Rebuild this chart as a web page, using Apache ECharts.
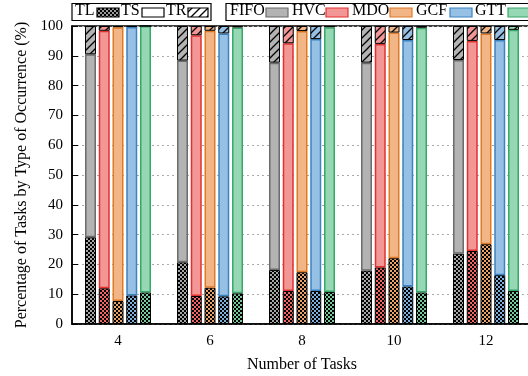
<!DOCTYPE html>
<html>
<head>
<meta charset="utf-8">
<script src="https://cdn.jsdelivr.net/npm/echarts@6/dist/echarts.min.js"></script>
<style>
  html, body { margin: 0; padding: 0; background: #fff; }
  #chart { width: 528px; height: 376px; }
</style>
</head>
<body>
<div id="chart"></div>
<script>
// Number of tasks on the x axis
const categories = ['4', '6', '8', '10', '12'];
const algorithms = ['FIFO', 'HVC', 'MDO', 'GCF', 'GTT'];
const yTicks = [0, 10, 20, 30, 40, 50, 60, 70, 80, 90, 100];

// Share of tasks (%) by type of occurrence, per algorithm, per task count
const tlFIFO = [29.1, 20.7, 18.1, 17.9, 23.6];
const tsFIFO = [61.4, 67.7, 69.6, 69.8, 65.0];
const trFIFO = [9.5, 11.6, 12.3, 12.3, 11.4];

const tlHVC = [12.0, 9.4, 11.1, 19.0, 24.5];
const tsHVC = [86.4, 87.5, 83.1, 75.0, 70.5];
const trHVC = [1.6, 3.1, 5.8, 6.0, 5.0];

const tlMDO = [7.7, 12.2, 17.4, 22.1, 26.8];
const tsMDO = [91.9, 86.2, 80.9, 75.7, 70.7];
const trMDO = [0.4, 1.6, 1.7, 2.2, 2.5];

const tlGCF = [9.6, 9.3, 11.1, 12.6, 16.4];
const tsGCF = [90.1, 88.2, 84.5, 82.7, 78.9];
const trGCF = [0.3, 2.5, 4.4, 4.7, 4.7];

const tlGTT = [10.6, 10.3, 10.7, 10.6, 11.1];
const tsGTT = [89.4, 89.2, 88.9, 88.8, 87.6];
const trGTT = [0.0, 0.5, 0.4, 0.6, 1.3];

const values = {
  FIFO: [tlFIFO, tsFIFO, trFIFO],
  HVC: [tlHVC, tsHVC, trHVC],
  MDO: [tlMDO, tsMDO, trMDO],
  GCF: [tlGCF, tsGCF, trGCF],
  GTT: [tlGTT, tsGTT, trGTT]
};

const palette = {
  FIFO: { fill: '#b3b3b3', edge: '#6b6b6b', dot: '#a6a6a6' },
  HVC:  { fill: '#f29696', edge: '#e3312f', dot: '#f06464' },
  MDO:  { fill: '#f1b586', edge: '#e07a26', dot: '#eaa266' },
  GCF:  { fill: '#96c0e4', edge: '#3b82c2', dot: '#7fb0dc' },
  GTT:  { fill: '#96d7b4', edge: '#38a76a', dot: '#76c99a' }
};

const FONT = '"Liberation Serif", "DejaVu Serif", serif';

// Checkerboard fill for the TL part of a bar
function checker(color) {
  const c = document.createElement('canvas');
  c.width = 4; c.height = 4;
  const g = c.getContext('2d');
  g.fillStyle = '#000';
  g.fillRect(0, 0, 4, 4);
  g.fillStyle = color;
  g.fillRect(0, 0, 2, 2);
  g.fillRect(2, 2, 2, 2);
  return { image: c, repeat: 'repeat' };
}

// Diagonal hatch for the TR part of a bar
function hatch(color) {
  const c = document.createElement('canvas');
  c.width = 8; c.height = 8;
  const g = c.getContext('2d');
  g.fillStyle = color;
  g.fillRect(0, 0, 8, 8);
  g.strokeStyle = '#000';
  g.lineWidth = 1.3;
  g.beginPath();
  g.moveTo(-1, 9); g.lineTo(9, -1);
  g.moveTo(-1, 1); g.lineTo(1, -1);
  g.moveTo(7, 9); g.lineTo(9, 7);
  g.stroke();
  return { image: c, repeat: 'repeat' };
}

const series = [];
algorithms.forEach(function (name) {
  const p = palette[name];
  const v = values[name];
  const common = { type: 'bar', stack: name, barWidth: 11, barGap: '25%' };
  series.push(Object.assign({
    name: name + ' TL', data: v[0],
    itemStyle: { color: checker(p.dot), borderColor: '#000', borderWidth: 1 }
  }, common));
  series.push(Object.assign({
    name: name + ' TS', data: v[1],
    itemStyle: { color: p.fill, borderColor: p.edge, borderWidth: 1.5 }
  }, common));
  series.push(Object.assign({
    name: name + ' TR', data: v[2],
    itemStyle: { color: hatch(p.fill), borderColor: '#000', borderWidth: 1 }
  }, common));
});

// Legend boxes drawn as graphics
const txt = (x, s) => ({
  type: 'text', left: x, top: 3,
  style: { text: s, font: '16px ' + FONT, fill: '#000' }
});
const swatch = (x, w, fill, stroke) => ({
  type: 'rect', shape: { x: x, y: 8, width: w, height: 9 },
  style: { fill: fill, stroke: stroke, lineWidth: 1.2 }
});

const legendGraphics = [
  { type: 'rect', shape: { x: 72, y: 3.5, width: 139, height: 17 },
    style: { fill: '#fff', stroke: '#000', lineWidth: 1.2 } },
  txt(75, 'TL'), swatch(97, 22, checker('#9a9a9a'), '#000'),
  txt(121, 'TS'), swatch(142, 22, '#fff', '#000'),
  txt(166, 'TR'), swatch(188, 20, hatch('#fff'), '#000'),
  { type: 'rect', shape: { x: 226, y: 3.5, width: 320, height: 17 },
    style: { fill: '#fff', stroke: '#000', lineWidth: 1.2 } },
  txt(230, 'FIFO'), swatch(266, 22, palette.FIFO.fill, palette.FIFO.edge),
  txt(292, 'HVC'), swatch(326, 22, palette.HVC.fill, palette.HVC.edge),
  txt(352, 'MDO'), swatch(390, 22, palette.MDO.fill, palette.MDO.edge),
  txt(416, 'GCF'), swatch(450, 22, palette.GCF.fill, palette.GCF.edge),
  txt(475, 'GTT'), swatch(508, 22, palette.GTT.fill, palette.GTT.edge)
];

const chart = echarts.init(document.getElementById('chart'), null, { renderer: 'canvas' });
chart.setOption({
  animation: false,
  backgroundColor: '#fff',
  grid: {
    left: 72, top: 26, width: 460, height: 298,
    outerBoundsMode: 'none',
    containLabel: false,
    show: true, borderColor: '#000', borderWidth: 1.5, backgroundColor: 'transparent'
  },
  xAxis: {
    type: 'category',
    data: categories,
    name: 'Number of Tasks',
    nameLocation: 'middle',
    nameGap: 33,
    nameTextStyle: { fontFamily: FONT, fontSize: 16, color: '#000' },
    axisLine: { lineStyle: { color: '#000', width: 1.5 } },
    axisTick: { show: false },
    axisLabel: { fontFamily: FONT, fontSize: 15, color: '#000', margin: 10 }
  },
  yAxis: {
    type: 'value',
    min: yTicks[0],
    max: yTicks[yTicks.length - 1],
    interval: 10,
    name: 'Percentage of Tasks by Type of Occurrence (%)',
    nameLocation: 'middle',
    nameGap: 42,
    nameTextStyle: { fontFamily: FONT, fontSize: 16, color: '#000' },
    axisLine: { show: true, lineStyle: { color: '#000', width: 1.5 } },
    axisTick: { show: true, inside: true, length: 6, lineStyle: { color: '#000' } },
    axisLabel: { fontFamily: FONT, fontSize: 15, color: '#000', margin: 9 },
    splitLine: { show: true, lineStyle: { color: '#aaa', type: [2, 3], width: 1 } }
  },
  series: series,
  graphic: legendGraphics
});
</script>
</body>
</html>
